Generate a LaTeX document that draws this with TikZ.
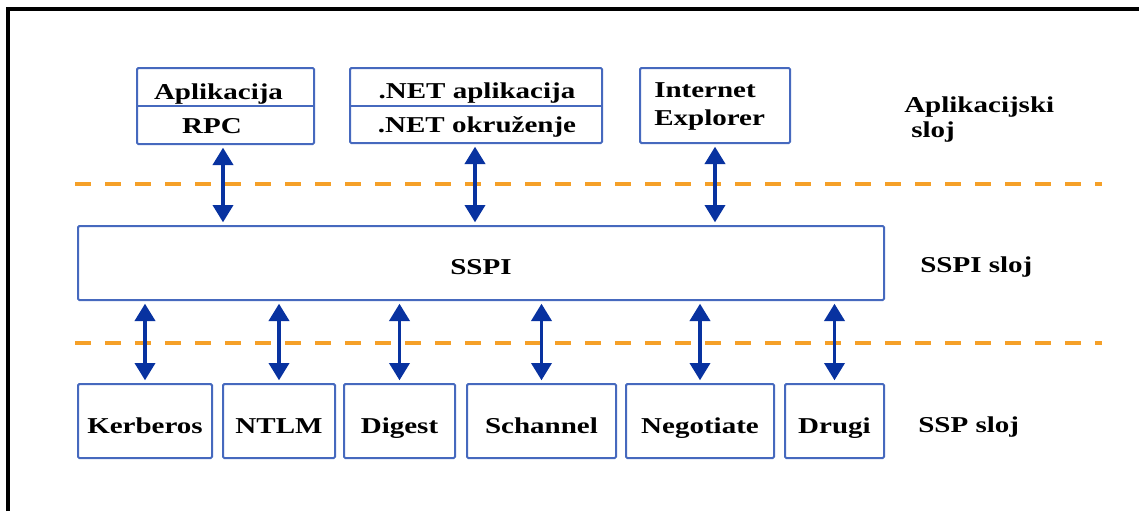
\documentclass[tikz,border=0pt]{standalone}
\usepackage{fontspec}
\setmainfont[FakeStretch=1.28]{Liberation Serif}
\usetikzlibrary{arrows.meta}
\definecolor{boxblue}{RGB}{70,105,190}
\definecolor{arrblue}{RGB}{8,50,160}
\definecolor{dashorange}{RGB}{245,160,40}
\begin{document}
\begin{tikzpicture}[x=0.75pt,y=-0.75pt,
  box/.style={draw=boxblue,line width=1.5pt,rounded corners=1pt,inner sep=0pt,
    font=\fontsize{17}{20}\selectfont\bfseries,text depth=0pt},
  txt/.style={font=\fontsize{17}{20}\selectfont\bfseries,inner sep=0pt,anchor=base},
  rtxt/.style={font=\fontsize{17}{20}\selectfont\bfseries,inner sep=0pt,anchor=base west},
  layerline/.style={draw=dashorange,line width=3pt,dash pattern=on 12pt off 10.5pt},
  arr/.style={draw=arrblue,line width=2.8pt,shorten >=2pt,shorten <=2pt,
    {Triangle[width=15pt,length=13pt]}-{Triangle[width=15pt,length=13pt]}}
]
\useasboundingbox (0,0) rectangle (1139,511);
% frame (top and left edges)
\coordinate (fa) at (8,511);
\coordinate (fb) at (8,9);
\coordinate (fc) at (1139,9);
\draw[line width=2.3pt] (fa) -- (fb) -- (fc);

% dashed layer lines
\coordinate (d1a) at (75,184);
\coordinate (d1b) at (1102,184);
\coordinate (d2a) at (75,343);
\coordinate (d2b) at (1102,343);
\draw[layerline] (d1a) -- (d1b);
\draw[layerline] (d2a) -- (d2b);

% application layer boxes
\node[box,minimum width=132.75pt,minimum height=57pt] (app1) at (225.5,106) {};
\draw[draw=boxblue,line width=1.5pt] (app1.west) -- (app1.east);
\node[txt] (t1a) at (218.5,99) {Aplikacija};
\node[txt] (t1b) at (212,133) {RPC};

\node[box,minimum width=189pt,minimum height=56.25pt] (net) at (476,105.5) {};
\draw[draw=boxblue,line width=1.5pt] (net.west) -- (net.east);
\node[txt] (t2a) at (477,98) {.NET aplikacija};
\node[txt] (t2b) at (477,132) {.NET okruženje};

\node[box,minimum width=112.5pt,minimum height=56.25pt] (ie) at (715,105.5) {};
\node[txt,anchor=base west] (t3a) at (654,97) {Internet};
\node[txt,anchor=base west] (t3b) at (654,125) {Explorer};

% SSPI
\node[box,minimum width=604.5pt,minimum height=55.5pt,text height=17pt] (sspi) at (481,263) {SSPI};

% SSP boxes
\tikzset{ssp/.style={box,minimum height=55.5pt,text height=18pt}}
\node[ssp,minimum width=100.5pt] (kerb) at (145,421) {Kerberos};
\node[ssp,minimum width=84pt] (ntlm) at (279,421) {NTLM};
\node[ssp,minimum width=83.25pt] (dig) at (399.5,421) {Digest};
\node[ssp,minimum width=111.75pt] (sch) at (541.5,421) {Schannel};
\node[ssp,minimum width=111pt] (neg) at (700,421) {Negotiate};
\node[ssp,minimum width=74.25pt] (dru) at (834.5,421) {Drugi};

% arrows
\draw[arr] (app1.south -| 223,0) -- (sspi.north -| 223,0);
\draw[arr] (net.south -| 475,0) -- (sspi.north -| 475,0);
\draw[arr] (ie.south) -- (ie.south |- sspi.north);
\foreach \n in {kerb,ntlm,dig,sch,neg,dru}{
  \draw[arr] (\n.north |- sspi.south) -- (\n.north);
}

% layer labels
\node[rtxt] (l1a) at (904,112) {Aplikacijski};
\node[rtxt] (l1b) at (911,137) {sloj};
\node[rtxt] (l2) at (920,272) {SSPI sloj};
\node[rtxt] (l3) at (918,432) {SSP sloj};
\end{tikzpicture}
\end{document}
